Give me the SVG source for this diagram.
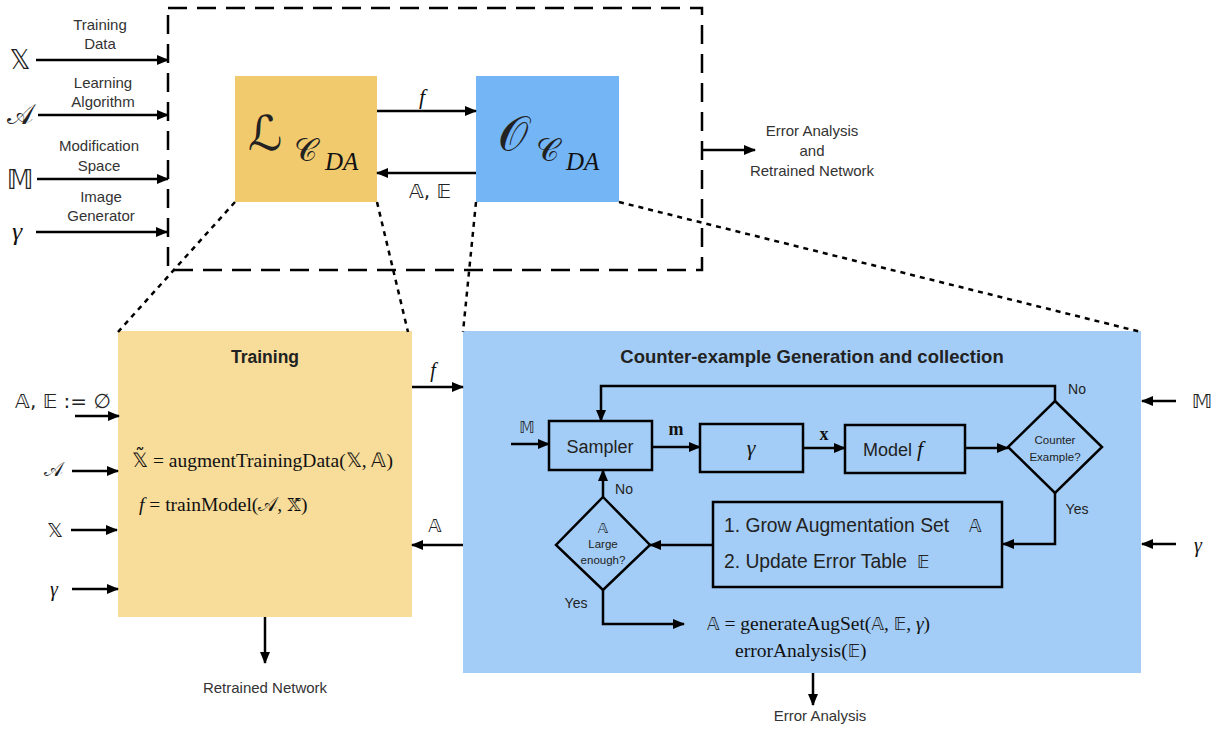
<svg xmlns="http://www.w3.org/2000/svg" width="1222" height="730" viewBox="0 0 1222 730">
<defs>
<marker id="ah" markerWidth="12" markerHeight="10" refX="11" refY="5" orient="auto" markerUnits="userSpaceOnUse">
<path d="M0,0 L12,5 L0,10 Z" fill="#000"/>
</marker>
<style>
.ln{stroke:#000;stroke-width:2.5;fill:none}
.ar{stroke:#000;stroke-width:2.5;fill:none;marker-end:url(#ah)}
.dot{stroke:#000;stroke-width:2.5;fill:none;stroke-dasharray:5 5}
.sans{font-family:"Liberation Sans",Arial,sans-serif;fill:#222}
.lbl{font-family:"Liberation Sans",Arial,sans-serif;font-size:15px;fill:#333;text-anchor:middle}
.math{font-family:"DejaVu Sans","Liberation Serif",serif;fill:#222}
.ser{font-family:"Liberation Serif","Times New Roman",serif;fill:#111}
.bx{stroke:#000;stroke-width:2.5;fill:none}
</style>
</defs>
<rect width="1222" height="730" fill="#fff"/>

<g id="outer-dashed">
<rect x="168" y="8" width="534" height="262" fill="none" stroke="#000" stroke-width="2.5" stroke-dasharray="19 10"/>
</g>

<g id="inputs-top">
<text class="math" x="20" y="69" font-size="26" text-anchor="middle">𝕏</text>
<text class="math" x="20" y="124" font-size="28" text-anchor="middle">𝒜</text>
<text class="math" x="20" y="189" font-size="26" text-anchor="middle">𝕄</text>
<text class="ser" x="17" y="240" font-size="26" font-style="italic" text-anchor="middle">γ</text>
<text class="lbl" x="100" y="30">Training</text>
<text class="lbl" x="100" y="49">Data</text>
<text class="lbl" x="103" y="88">Learning</text>
<text class="lbl" x="103" y="107">Algorithm</text>
<text class="lbl" x="99" y="151">Modification</text>
<text class="lbl" x="99" y="171">Space</text>
<text class="lbl" x="101" y="202">Image</text>
<text class="lbl" x="101" y="221">Generator</text>
</g>

<g id="L-box">
<rect x="235" y="76" width="142" height="126" fill="#F2CA6E"/>
<text class="math" x="248" y="150" font-size="48">ℒ</text>
<text class="math" x="294" y="161" font-size="32">𝒞</text>
<text class="ser" x="325" y="170" font-size="25" font-style="italic">DA</text>
</g>

<g id="O-box">
<rect x="476" y="76" width="143" height="126" fill="#74B5F5"/>
<text class="math" x="498" y="150" font-size="48">𝒪</text>
<text class="math" x="536" y="161" font-size="32">𝒞</text>
<text class="ser" x="566" y="170" font-size="25" font-style="italic">DA</text>
</g>

<g id="top-output">
<text class="lbl" x="812" y="136">Error Analysis</text>
<text class="lbl" x="812" y="156">and</text>
<text class="lbl" x="812" y="176">Retrained Network</text>
</g>

<g id="training-box">
<rect x="118" y="331" width="294" height="286" fill="#F7DC9A"/>
<text class="sans" x="265" y="363" font-size="17.5" font-weight="bold" text-anchor="middle" fill="#111">Training</text>
<text class="ser" x="132" y="467" font-size="19.5">𝕏̃ = augmentTrainingData(𝕏, 𝔸)</text>
<text class="ser" x="139" y="511" font-size="19.5"><tspan font-style="italic">f</tspan> = trainModel(𝒜, 𝕏̃)</text>
</g>

<g id="training-inputs">
<text class="math" x="63" y="408" font-size="20" text-anchor="middle">𝔸, 𝔼 := ∅</text>
<text class="math" x="53" y="476" font-size="20" text-anchor="middle">𝒜</text>
<text class="math" x="55" y="537" font-size="20" text-anchor="middle">𝕏</text>
<text class="ser" x="54" y="596" font-size="20" font-style="italic" text-anchor="middle">γ</text>
<text class="lbl" x="265" y="693">Retrained Network</text>
</g>

<g id="counter-box">
<rect x="463" y="331" width="678" height="342" fill="#A3CDF7"/>
<text class="sans" x="812" y="363" font-size="18.5" font-weight="bold" text-anchor="middle" fill="#111">Counter-example Generation and collection</text>
</g>

<g id="sampler">
<rect class="bx" x="549" y="421" width="103" height="49"/>
<text class="sans" x="600" y="453" font-size="18" text-anchor="middle">Sampler</text>
</g>
<g id="gamma-box">
<rect class="bx" x="700" y="424" width="103" height="48"/>
<text class="ser" x="751" y="455" font-size="22" font-style="italic" text-anchor="middle">γ</text>
</g>
<g id="model-box">
<rect class="bx" x="845" y="425" width="120" height="48"/>
<text class="sans" x="893" y="456" font-size="18" text-anchor="middle">Model <tspan class="ser" font-style="italic" font-size="22">f</tspan></text>
</g>
<g id="counter-diamond">
<polygon class="bx" points="1055,401 1102,447 1055,493 1008,447"/>
<text class="sans" x="1055" y="444" font-size="11.5" text-anchor="middle" fill="#333">Counter</text>
<text class="sans" x="1055" y="461" font-size="11.5" text-anchor="middle" fill="#333">Example?</text>
</g>
<g id="grow-box">
<rect class="bx" x="713" y="502" width="289" height="85"/>
<text class="sans" x="724" y="532" font-size="19.3">1. Grow Augmentation Set</text>
<text class="math" x="969" y="532" font-size="17" fill="#444">𝔸</text>
<text class="sans" x="724" y="568" font-size="19.3">2. Update Error Table</text>
<text class="math" x="917" y="568" font-size="17" fill="#444">𝔼</text>
</g>
<g id="large-diamond">
<polygon class="bx" points="603,497 650,545 603,590 556,545"/>
<text class="math" x="603" y="533" font-size="14" text-anchor="middle" fill="#444">𝔸</text>
<text class="sans" x="603" y="548" font-size="11.5" text-anchor="middle" fill="#333">Large</text>
<text class="sans" x="603" y="564" font-size="11.5" text-anchor="middle" fill="#333">enough?</text>
</g>
<g id="gen-formula">
<text class="ser" x="707" y="630" font-size="19.5"><tspan class="math" font-size="17">𝔸</tspan> = generateAugSet(<tspan class="math" font-size="17">𝔸</tspan>, <tspan class="math" font-size="17">𝔼</tspan>, <tspan font-style="italic">γ</tspan>)</text>
<text class="ser" x="735" y="657" font-size="19.5">errorAnalysis(<tspan class="math" font-size="17">𝔼</tspan>)</text>
<text class="lbl" x="820" y="721">Error Analysis</text>
</g>
<g id="right-inputs">
<text class="math" x="1202" y="408" font-size="20" text-anchor="middle">𝕄</text>
<text class="ser" x="1198" y="552" font-size="20" font-style="italic" text-anchor="middle">γ</text>
</g>

<g id="connectors">
<line class="ar" x1="36" y1="60" x2="168" y2="60"/>
<line class="ar" x1="38" y1="115" x2="168" y2="115"/>
<line class="ar" x1="37" y1="179" x2="168" y2="179"/>
<line class="ar" x1="36" y1="232" x2="167" y2="232"/>
<line class="ar" x1="377" y1="111" x2="476" y2="111"/>
<text class="ser" x="422" y="104" font-size="22" font-style="italic" text-anchor="middle">f</text>
<line class="ar" x1="476" y1="173" x2="377" y2="173"/>
<text class="math" x="430" y="198" font-size="20" text-anchor="middle">𝔸, 𝔼</text>
<polyline class="ar" points="702,150 755,150"/>
<line class="dot" x1="235" y1="202" x2="118" y2="332"/>
<line class="dot" x1="377" y1="202" x2="408" y2="332"/>
<line class="dot" x1="476" y1="202" x2="463" y2="332"/>
<line class="dot" x1="619" y1="202" x2="1141" y2="332"/>
<line class="ar" x1="75" y1="416" x2="119" y2="416"/>
<line class="ar" x1="72" y1="471" x2="118" y2="471"/>
<line class="ar" x1="71" y1="530" x2="117" y2="530"/>
<line class="ar" x1="72" y1="589" x2="118" y2="589"/>
<line class="ar" x1="265" y1="617" x2="265" y2="663"/>
<line class="ar" x1="412" y1="387" x2="463" y2="387"/>
<text class="ser" x="433" y="377" font-size="20" font-style="italic" text-anchor="middle">f</text>
<line class="ar" x1="463" y1="545" x2="412" y2="545"/>
<text class="math" x="435" y="532" font-size="18" text-anchor="middle" fill="#333">𝔸</text>
<line class="ar" x1="511" y1="444" x2="549" y2="444"/>
<text class="math" x="527" y="433" font-size="15" text-anchor="middle" fill="#333">𝕄</text>
<line class="ar" x1="652" y1="447" x2="700" y2="447"/>
<text class="ser" x="676" y="435" font-size="18" font-weight="bold" text-anchor="middle">m</text>
<line class="ar" x1="803" y1="448" x2="845" y2="448"/>
<text class="ser" x="824" y="440" font-size="18" font-weight="bold" text-anchor="middle">x</text>
<line class="ar" x1="965" y1="448" x2="1008" y2="448"/>
<polyline class="ar" points="1055,401 1055,386 601,386 601,421"/>
<text class="sans" x="1077" y="394" font-size="14" text-anchor="middle" fill="#333">No</text>
<polyline class="ar" points="1055,493 1055,544 1003,544"/>
<text class="sans" x="1077" y="514" font-size="14" text-anchor="middle" fill="#333">Yes</text>
<line class="ar" x1="713" y1="545" x2="650" y2="545"/>
<line class="ar" x1="603" y1="497" x2="603" y2="470"/>
<text class="sans" x="624" y="494" font-size="14" text-anchor="middle" fill="#333">No</text>
<polyline class="ar" points="603,590 603,624 684,624"/>
<text class="sans" x="576" y="608" font-size="14" text-anchor="middle" fill="#333">Yes</text>
<line class="ar" x1="813" y1="673" x2="813" y2="705"/>
<line class="ar" x1="1176" y1="401" x2="1142" y2="401"/>
<line class="ar" x1="1176" y1="544" x2="1142" y2="544"/>
</g>
</svg>
